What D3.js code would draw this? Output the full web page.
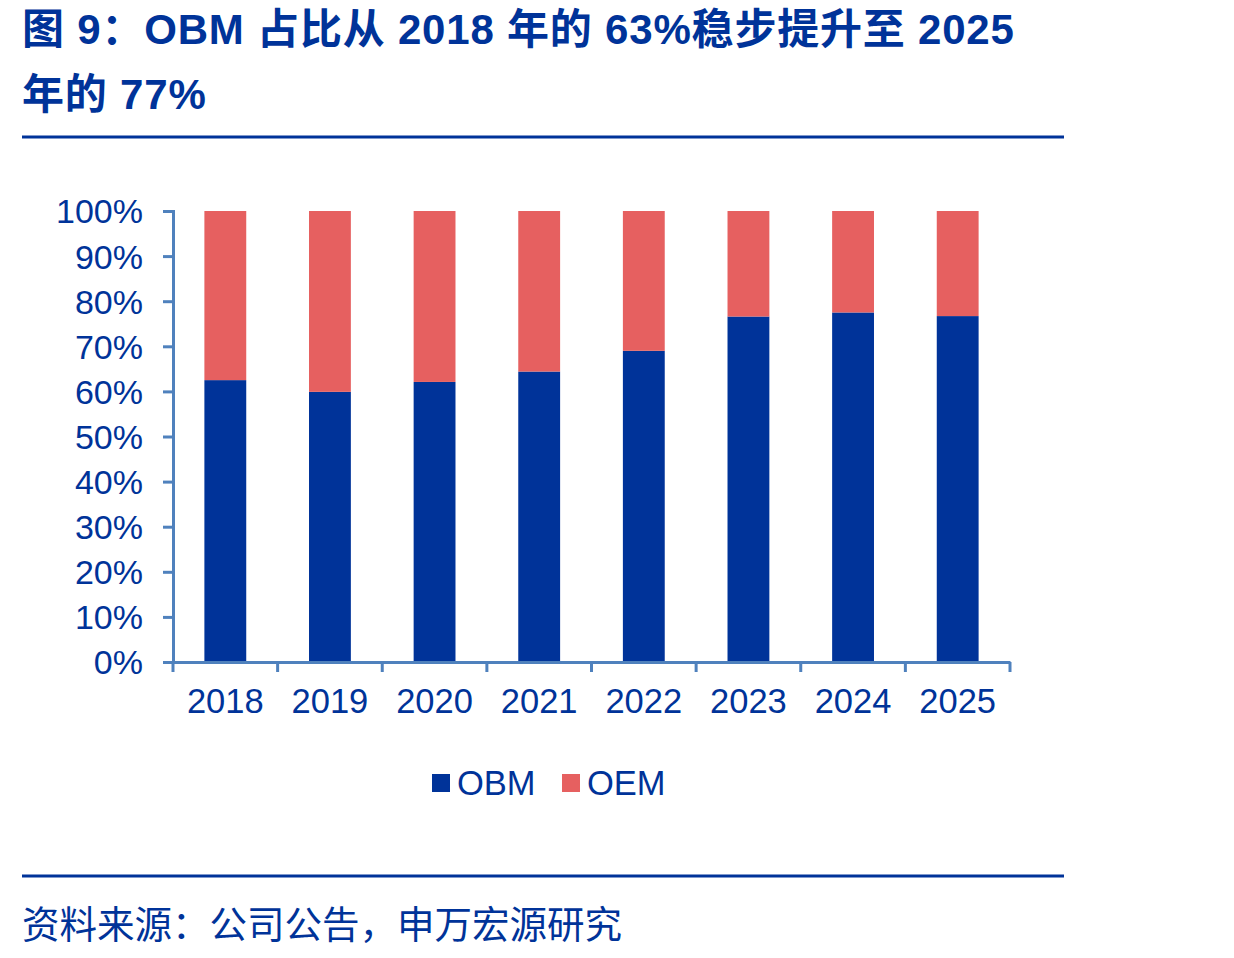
<!DOCTYPE html>
<html>
<head>
<meta charset="utf-8">
<script src="https://cdn.jsdelivr.net/npm/d3@7"></script>
<style>
  body { margin: 0; background: #fff; }
  svg { display: block; }
</style>
</head>
<body>
<div id="chart"></div>
<script>
// data
const years = ['2018', '2019', '2020', '2021', '2022', '2023', '2024', '2025']
const obm = [62.5, 59.9, 62.1, 64.4, 69.0, 76.6, 77.5, 76.7]
const oem = obm.map(d => 100 - d)
const yTicks = [0, 10, 20, 30, 40, 50, 60, 70, 80, 90, 100]
const seriesNames = ['OBM', 'OEM']

const blue = '#003399'
const red = '#e66060'
const axisColor = '#4f81bd'
const cjk = '"Noto Sans CJK SC", sans-serif'
const latin = '"Liberation Sans", Arial, sans-serif'

const [width, height] = [1234, 958]
const svg = d3.select('#chart').append('svg')
    .attr('width', width)
    .attr('height', height)

// title
const title = svg.append('g')
    .attr('fill', blue)
    .attr('font-family', '"Liberation Sans", "Noto Sans CJK SC", sans-serif')
    .attr('font-weight', 'bold')
    .attr('font-size', 42)
    .attr('letter-spacing', 0.8)
title.append('text').attr('x', 22).attr('y', 44).text('图 9：OBM 占比从 2018 年的 63%稳步提升至 2025')
title.append('text').attr('x', 22).attr('y', 109).text('年的 77%')

svg.append('line')
    .attr('x1', 22).attr('x2', 1064)
    .attr('y1', 137).attr('y2', 137)
    .attr('stroke', blue).attr('stroke-width', 3)

svg.append('line')
    .attr('x1', 22).attr('x2', 1064)
    .attr('y1', 876).attr('y2', 876)
    .attr('stroke', blue).attr('stroke-width', 3)

svg.append('text')
    .attr('x', 22).attr('y', 938)
    .attr('fill', blue)
    .attr('font-family', cjk)
    .attr('font-size', 37.5)
    .text('资料来源：公司公告，申万宏源研究')

// scales
const x = d3.scaleBand()
    .domain(years)
    .range([173, 1010])
    .paddingInner(0.6)
    .paddingOuter(0.3)

const y = d3.scaleLinear()
    .domain([0, 100])
    .range([662, 211])

const stack = d3.stack().keys(seriesNames)
const rows = years.map((yr, i) => ({ year: yr, OBM: obm[i], OEM: oem[i] }))
const layers = stack(rows)
const colors = { OBM: blue, OEM: red }

svg.append('g')
    .selectAll('g')
    .data(layers)
    .join('g')
    .attr('fill', d => colors[d.key])
    .selectAll('rect')
    .data(d => d)
    .join('rect')
    .attr('x', d => x(d.data.year))
    .attr('width', x.bandwidth())
    .attr('y', d => y(d[1]))
    .attr('height', d => y(d[0]) - y(d[1]))

// y axis
const yAxis = svg.append('g')
    .attr('transform', 'translate(173,0)')
    .call(d3.axisLeft(y).tickValues(yTicks).tickFormat(d => d + '%').tickSize(10).tickSizeOuter(10).tickPadding(20))
yAxis.selectAll('path, line').attr('stroke', axisColor).attr('stroke-width', 3)
yAxis.selectAll('text')
    .attr('fill', blue)
    .attr('font-family', latin)
    .attr('font-size', 34)
    .attr('dy', '0.35em')

// x axis with ticks between categories
const xAxis = svg.append('g')
    .attr('transform', 'translate(0,662)')
    .call(d3.axisBottom(x).tickSize(0).tickPadding(27))
xAxis.select('.domain').attr('stroke', axisColor).attr('stroke-width', 3)
xAxis.selectAll('text')
    .attr('fill', blue)
    .attr('font-family', latin)
    .attr('font-size', 34.5)
const step = x.step()
const bounds = d3.range(years.length + 1).map(i => 173 + i * step)
xAxis.selectAll('.sep')
    .data(bounds)
    .join('line')
    .attr('class', 'sep')
    .attr('x1', d => d).attr('x2', d => d)
    .attr('y1', 0).attr('y2', 10)
    .attr('stroke', axisColor).attr('stroke-width', 3)

// legend
const legend = svg.append('g')
    .selectAll('g')
    .data(seriesNames)
    .join('g')
    .attr('transform', (d, i) => `translate(${432 + i * 130},783)`)
legend.append('rect')
    .attr('x', 0).attr('y', -9)
    .attr('width', 18).attr('height', 18)
    .attr('fill', d => colors[d])
legend.append('text')
    .attr('x', 25).attr('y', 0)
    .attr('dy', '0.35em')
    .attr('fill', blue)
    .attr('font-family', latin)
    .attr('font-size', 34.5)
    .text(d => d)
</script>
</body>
</html>
